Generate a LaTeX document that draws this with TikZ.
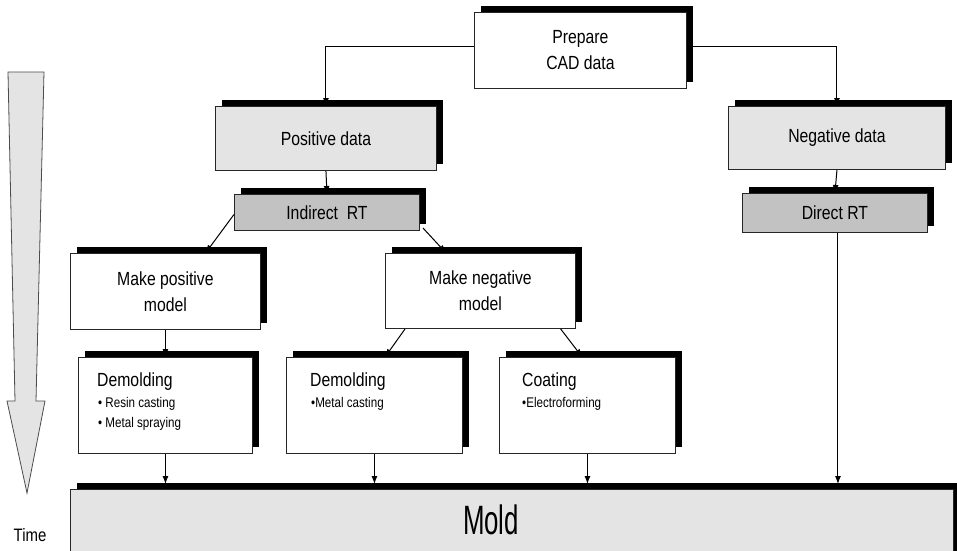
\documentclass[tikz,border=0pt]{standalone}
\usepackage{fontspec}
\setmainfont{Liberation Sans}[FakeStretch=0.83]
\newfontfamily\moldfont{Liberation Sans}[FakeStretch=0.63]
\usetikzlibrary{arrows.meta,shadows,calc}
\definecolor{lightgr}{HTML}{E4E4E4}
\definecolor{midgr}{HTML}{C2C2C2}
\tikzset{
  sbox/.style={draw=black!85, line width=0.9pt, rectangle, inner sep=0pt, anchor=north west,
    align=center, font=\fontsize{19}{26}\selectfont,
    drop shadow={shadow xshift=7pt, shadow yshift=6pt, opacity=1, fill=black}},
  lbox/.style={sbox, fill=lightgr},
  gbox/.style={sbox, fill=midgr},
  wbox/.style={sbox, fill=white},
  head/.style={anchor=base west, inner sep=0pt, font=\fontsize{19}{22}\selectfont},
  bul/.style={anchor=base west, inner sep=0pt, font=\fontsize{14}{16}\selectfont},
  arr/.style={draw=black, line width=1pt, -{Latex[length=8pt,width=6pt]}},
}
\begin{document}
\begin{tikzpicture}[x=1pt,y=1pt]
\useasboundingbox (0,0) rectangle (957,-550);
\fill[white] (0,0) rectangle (957,-550);
% time arrow
\draw[draw=black!70, line width=0.8pt, fill=lightgr]
  (8,-72) -- (44,-72) -- (36,-401) -- (45,-401) -- (27,-493) -- (7,-401) -- (15,-401) -- cycle;
\node[inner sep=0pt, font=\fontsize{18}{20}\selectfont] (time) at (30,-535) {Time};
% boxes
\node[wbox, minimum width=212pt, minimum height=76pt] (prep) at (474,-12) {Prepare\\CAD data};
\node[lbox, minimum width=221pt, minimum height=64pt] (pos) at (215,-106) {Positive data};
\node[gbox, minimum width=185pt, minimum height=36pt] (ind) at (234,-194) {Indirect~~RT};
\node[lbox, minimum width=217pt, minimum height=63pt] (neg) at (728,-106) {Negative data};
\node[gbox, minimum width=185pt, minimum height=39pt] (dir) at (742,-193) {Direct RT};
\node[wbox, minimum width=190pt, minimum height=76pt] (mpos) at (70,-253) {Make positive\\model};
\node[wbox, minimum width=190pt, minimum height=75pt] (mneg) at (385,-253) {Make negative\\model};
\node[wbox, minimum width=174pt, minimum height=96pt] (dem1) at (78,-357) {};
\node[wbox, minimum width=176pt, minimum height=96pt] (dem2) at (286,-357) {};
\node[wbox, minimum width=176pt, minimum height=96pt] (coat) at (499,-357) {};
\node[lbox, minimum width=883pt, minimum height=80pt] (mold) at (70,-489) {};
\node[inner sep=0pt, font=\moldfont\fontsize{41}{44}\selectfont] (moldtxt) at (491,-520) {Mold};
% texts in lower boxes
\node[head] (dem1h) at (97,-386) {Demolding};
\node[bul] (dem1a) at (98,-407) {• Resin casting};
\node[bul] (dem1b) at (98,-427) {• Metal spraying};
\node[head] (dem2h) at (310,-386) {Demolding};
\node[bul] (dem2a) at (311,-407) {•Metal casting};
\node[head] (coath) at (522,-386) {Coating};
\node[bul] (coata) at (522,-407) {•Electroforming};
% connectors
\coordinate (moldtop) at (0,-484);
\draw[arr] ([yshift=4pt]prep.west) -| (pos.north);
\draw[arr] ([yshift=4pt]prep.east) -| (neg.north);
\draw[arr] (pos.south) -- (ind.north);
\draw[arr] (neg.south) -- (dir.north);
\draw[arr] ([yshift=-2pt]ind.west) -- ($(mpos.north west)!0.71!(mpos.north east)$);
\draw[arr] ([xshift=3pt,yshift=3pt]ind.south east) -- ($(mneg.north west)!0.32!(mneg.north east)$);
\draw[arr] (mpos.south) -- (dem1.north);
\draw[arr] ($(mneg.south west)!0.105!(mneg.south east)$) -- ($(dem2.north west)!0.56!(dem2.north east)$);
\draw[arr] ($(mneg.south west)!0.92!(mneg.south east)$) -- ($(coat.north west)!0.47!(coat.north east)$);
\draw[arr] (dem1.south) -- (dem1.south |- moldtop);
\draw[arr] (dem2.south) -- (dem2.south |- moldtop);
\draw[arr] (coat.south) -- (coat.south |- moldtop);
\draw[arr] ([xshift=3pt]dir.south) -- ([xshift=3pt]dir.south |- moldtop);
\end{tikzpicture}
\end{document}
